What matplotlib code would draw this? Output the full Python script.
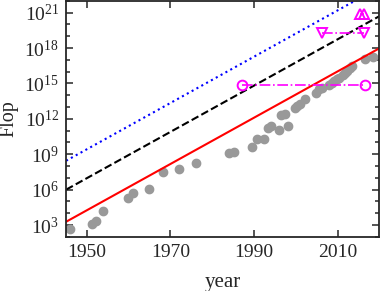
import numpy as np
import matplotlib
matplotlib.use("Agg")
import matplotlib.pyplot as plt
from matplotlib.ticker import FixedLocator, NullFormatter

plt.rcParams["font.family"] = ["Liberation Serif", "DejaVu Serif"]
plt.rcParams["mathtext.fontset"] = "custom"
plt.rcParams["mathtext.rm"] = "Liberation Serif"
plt.rcParams["mathtext.it"] = "Liberation Serif:italic"

# measured machines (log10 Flop)
years = [1946.0, 1951.1, 1952.1, 1953.9, 1959.9, 1961.1, 1964.9, 1968.1, 1972.1,
         1976.0, 1984.1, 1985.3, 1989.6, 1990.6, 1992.5, 1993.3, 1994.1, 1995.9,
         1996.5, 1997.3, 1998.1, 1999.8, 2000.4, 2001.1, 2002.3, 2004.9, 2005.5,
         2006.3, 2007.9, 2008.6, 2009.1, 2009.8, 2010.4, 2011.2, 2011.8, 2012.3,
         2012.9, 2013.5, 2016.6, 2018.6]
log_flop = [2.66, 3.08, 3.36, 4.16, 5.26, 5.73, 6.05, 7.51, 7.74,
            8.27, 9.12, 9.17, 9.62, 10.33, 10.28, 11.22, 11.4, 11.05,
            12.3, 12.43, 11.4, 12.9, 13.1, 13.27, 13.69, 14.2, 14.5,
            14.6, 14.9, 15.0, 15.18, 15.35, 15.46, 15.7, 15.85, 16.03,
            16.3, 16.5, 17.1, 17.25]

# trend lines: log10 value at 1945 and slope (decades / year)
trend_year0 = 1945
trend_slope = 0.196
trend_start = {"red": 3.28, "black": 6.0, "blue": 8.45}

# magenta reference ranges
circ_years = [1987.0, 2016.5]
circ_log = [14.88, 14.88]
vtri_years = [2006.3, 2016.3]
vtri_log = [19.3, 19.3]
utri_years = [2015.3, 2016.4]
utri_log = [20.9, 20.9]

fig = plt.figure(figsize=(3.82, 2.91), dpi=100)
ax = fig.add_axes([0.173, 0.186, 0.820, 0.811])

ax.plot(years, 10.0 ** np.array(log_flop), "o", color="#999999", mec="#999999", ms=6)

xx = np.array([1945, 2020])
ax.plot(xx, 10.0 ** (trend_start["red"] + trend_slope * (xx - trend_year0)), "-", color="red", lw=1.5)
ax.plot(xx, 10.0 ** (trend_start["black"] + trend_slope * (xx - trend_year0)), "--", color="black", lw=1.5)
ax.plot(xx, 10.0 ** (trend_start["blue"] + trend_slope * (xx - trend_year0)), ":", color="blue", lw=1.5)

mag = (1, 0, 1)
ax.plot(circ_years, 10.0 ** np.array(circ_log), "o-.", color=mag, mfc="none", ms=7, lw=1.2, mew=1.4)
ax.plot(vtri_years, 10.0 ** np.array(vtri_log), "v-.", color=mag, mfc="none", ms=7.5, lw=1.2, mew=1.4)
ax.plot(utri_years, 10.0 ** np.array(utri_log), "^-.", color=mag, mfc="none", ms=7.5, lw=1.2, mew=1.4)

ax.set_yscale("log")
ax.set_xlim(1945, 2020)
ax.set_ylim(1e2, 1e22)
ax.set_xticks([1950, 1970, 1990, 2010])
ax.yaxis.set_major_locator(FixedLocator([10.0 ** k for k in range(3, 22, 3)]))
ax.yaxis.set_minor_locator(FixedLocator([10.0 ** k for k in range(2, 23) if k % 3]))
ax.yaxis.set_minor_formatter(NullFormatter())

dark = "#262626"
for s in ax.spines.values():
    s.set_linewidth(1.3)
    s.set_color(dark)
ax.tick_params(which="both", direction="in", top=True, right=True, colors=dark,
               labelsize=14, width=1.1)
ax.tick_params(which="major", length=5, pad=5)
ax.tick_params(which="minor", length=3)

ax.set_xlabel("year", fontsize=15, color=dark)
ax.set_ylabel("Flop", fontsize=14.5, color=dark)
ax.xaxis.set_label_coords(0.5, -0.155)
ax.yaxis.set_label_coords(-0.152, 0.5)

fig.savefig("out.png", dpi=100)
